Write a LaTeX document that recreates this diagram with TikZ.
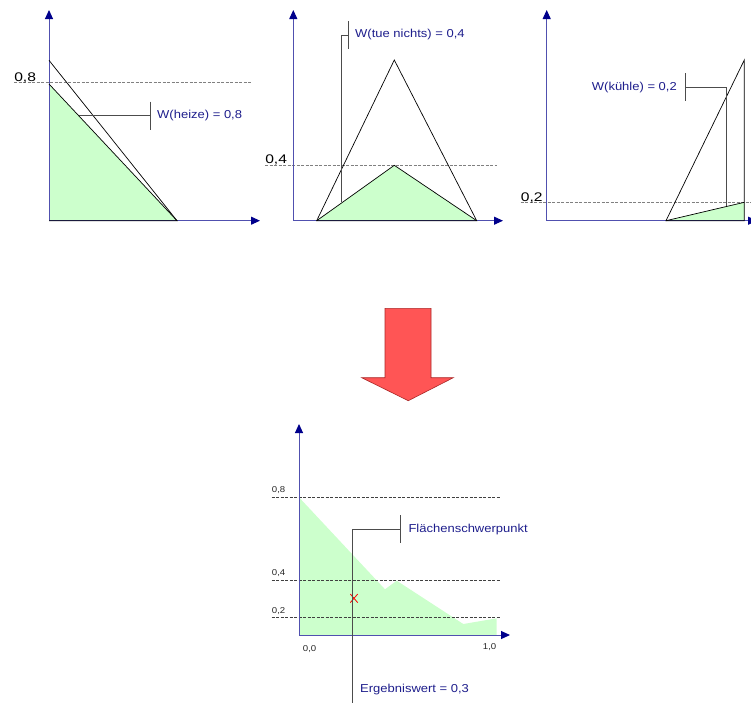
\documentclass[tikz,border=0pt]{standalone}
\usepackage{fontspec}
\setmainfont{Liberation Sans}
\usetikzlibrary{arrows.meta}
\definecolor{axisblue}{RGB}{80,80,175}
\definecolor{navy}{RGB}{0,0,140}
\definecolor{lblue}{RGB}{30,30,140}
\definecolor{mfill}{RGB}{204,255,204}
\definecolor{arrowred}{RGB}{255,85,85}
\definecolor{arrowedge}{RGB}{170,40,40}
\begin{document}
\begin{tikzpicture}[x=1pt,y=-1pt,
 axis/.style={draw=axisblue, line width=1pt, -{Triangle[length=9pt,width=8pt,color=navy,fill=navy]}},
 level/.style={draw=black!50, line width=0.9pt, dash pattern=on 3pt off 1.5pt},
 levelb/.style={draw=black!75, line width=0.8pt, dash pattern=on 3pt off 1.5pt},
 tri/.style={draw=black, line width=0.7pt},
 call/.style={draw=black!70, line width=1pt},
 bigdig/.style={font=\fontsize{12.5}{14}\selectfont, xscale=1.25, inner sep=0pt, anchor=base west},
 lbl/.style={font=\fontsize{11.5}{13}\selectfont, text=lblue, xscale=1.13, inner sep=0pt},
 smalldig/.style={font=\fontsize{8.5}{10}\selectfont, xscale=1.13, inner sep=0pt, text=black!85},
 xmark/.style={draw=red, line width=0.8pt},
]
\useasboundingbox (0,0) rectangle (751,702);

% ---------- panel 1 : heize ----------
\coordinate (o1) at (49,220.7);
\coordinate (y1) at (49,10);
\coordinate (x1) at (260,220.7);
\coordinate (a1) at (49,60.3);
\coordinate (c1) at (49,84);
\coordinate (e1) at (177,220.7);
\fill[mfill] (c1) -- (e1) -- (o1) -- cycle;
\draw[level] (14,82.3) -- (251,82.3);
\draw[axis] (o1) -- (y1);
\draw[axis] (o1) -- (x1);
\draw[tri] (a1) -- (e1);
\draw[tri] (c1) -- (e1) -- (o1);
\node[bigdig] (l08) at (14,81) {0,8};
\coordinate (p1) at (79,115.7);
\coordinate (b1) at (150,115.7);
\node[lbl, anchor=west] (w1) at (157,115.5) {W(heize) = 0,8};
\draw[call] (p1) -- (b1);
\draw[call] ([yshift=14pt]b1) -- ([yshift=-14pt]b1);

% ---------- panel 2 : tue nichts ----------
\coordinate (o2) at (293.3,220.7);
\coordinate (y2) at (293.3,10);
\coordinate (x2) at (503,220.7);
\coordinate (s2) at (316.7,220.7);
\coordinate (t2) at (394.3,60);
\coordinate (m2) at (394.3,165.3);
\coordinate (e2) at (476.7,220.7);
\fill[mfill] (s2) -- (m2) -- (e2) -- cycle;
\draw[level] (265,165.3) -- (497,165.3);
\draw[axis] (o2) -- (y2);
\draw[axis] (o2) -- (x2);
\draw[tri] (s2) -- (t2) -- (e2) -- cycle;
\draw[tri] (s2) -- (m2) -- (e2);
\node[bigdig] (l04) at (265,163.5) {0,4};
\coordinate (p2) at (341,201.7);
\coordinate (k2) at (341,35);
\coordinate (b2) at (348.3,35);
\node[lbl, anchor=west] (w2) at (355,35) {W(tue nichts) = 0,4};
\draw[call] (p2) -- (k2) -- (b2);
\draw[call] ([yshift=14pt]b2) -- ([yshift=-14pt]b2);

% ---------- panel 3 : kuehle ----------
\coordinate (o3) at (546.7,220.7);
\coordinate (y3) at (546.7,10);
\coordinate (x3) at (757,220.7);
\coordinate (s3) at (666,220.7);
\coordinate (t3) at (744.3,60);
\coordinate (m3) at (744.3,202.3);
\coordinate (e3) at (744.3,220.7);
\fill[mfill] (s3) -- (m3) -- (e3) -- cycle;
\draw[level] (520.7,202.3) -- (751,202.3);
\draw[axis] (o3) -- (y3);
\draw[axis] (o3) -- (x3);
\draw[tri] (s3) -- (t3) -- (e3) -- cycle;
\draw[tri] (s3) -- (m3);
\node[bigdig] (l02) at (520.7,201) {0,2};
\coordinate (p3) at (726,205.7);
\coordinate (k3) at (726,87.3);
\coordinate (b3) at (685,87.3);
\node[lbl, anchor=east] (w3) at (677,87.3) {W(kühle) = 0,2};
\draw[call] (p3) -- (k3) -- (b3);
\draw[call] ([yshift=14pt]b3) -- ([yshift=-14pt]b3);

% ---------- big arrow ----------
\filldraw[fill=arrowred, draw=arrowedge, line width=0.6pt]
  (385,308.3) -- (431,308.3) -- (431,377.7) -- (453.3,377.7) -- (408.3,400.7)
  -- (361.7,377.7) -- (385,377.7) -- cycle;

% ---------- result panel ----------
\coordinate (o4) at (299,635);
\coordinate (y4) at (299,424);
\coordinate (x4) at (510,635);
\fill[mfill] (299,497.3) -- (385,589.3) -- (396.7,580.7) -- (463.3,624)
  -- (496.7,618.3) -- (496.7,635) -- (299,635) -- cycle;
\draw[levelb] (271.7,497.3) -- (500.7,497.3);
\draw[levelb] (271.7,580.7) -- (500.7,580.7);
\draw[levelb] (271.7,617.3) -- (500.7,617.3);
\draw[axis] (o4) -- (y4);
\draw[axis] (o4) -- (x4);
\node[smalldig, anchor=west] (s08) at (271.7,490) {0,8};
\node[smalldig, anchor=west] (s04) at (271.7,573.3) {0,4};
\node[smalldig, anchor=west] (s02) at (271.7,610.7) {0,2};
\node[smalldig, anchor=west] (s00) at (302.7,649.3) {0,0};
\node[smalldig, anchor=west] (s10) at (482.7,647.3) {1,0};
\coordinate (cg) at (354,598.3);
\draw[xmark] ([shift={(-3.7,-4.3)}]cg) -- ([shift={(3.7,4.3)}]cg);
\draw[xmark] ([shift={(-3.7,4.3)}]cg) -- ([shift={(3.7,-4.3)}]cg);
\coordinate (p4) at (352.7,703);
\coordinate (k4) at (352.7,529.3);
\coordinate (b4) at (400,529.3);
\node[lbl, anchor=west] (w4) at (408.3,529.3) {Flächenschwerpunkt};
\node[lbl, anchor=west] (w5) at (360,690) {Ergebniswert = 0,3};
\draw[call] (p4) -- (k4) -- (b4);
\draw[call] ([yshift=14pt]b4) -- ([yshift=-14pt]b4);
\end{tikzpicture}
\end{document}
